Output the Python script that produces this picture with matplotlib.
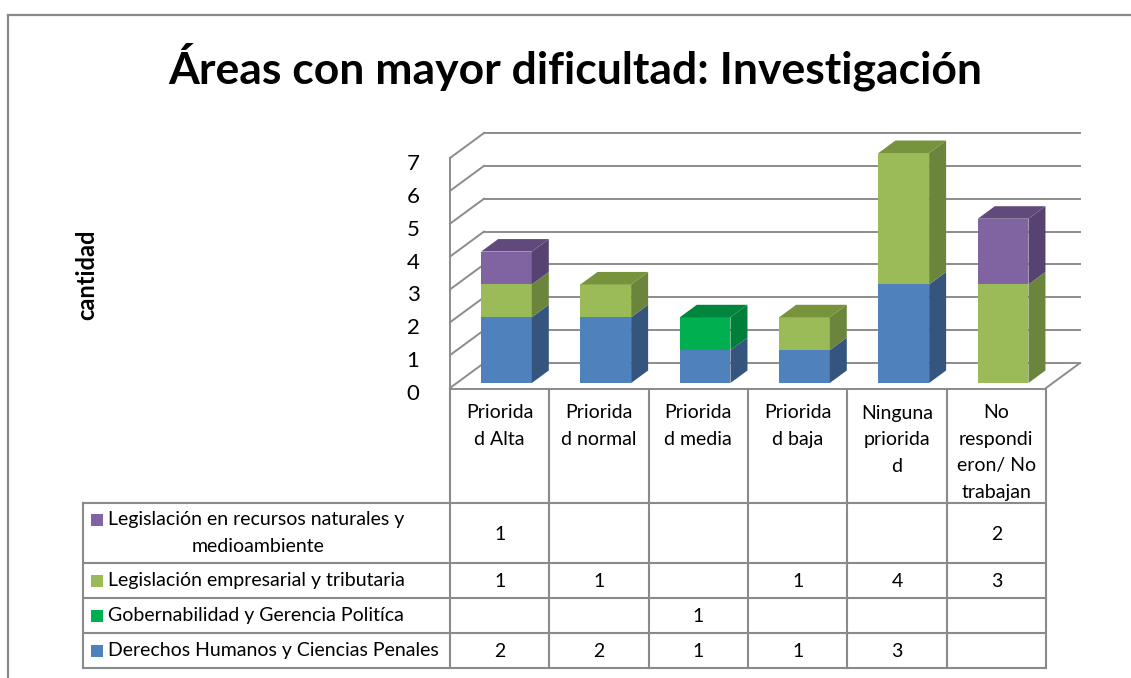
"""Stacked pseudo-3D column chart with a data table underneath."""
import numpy as np
import matplotlib
matplotlib.use("Agg")
import matplotlib.pyplot as plt
from matplotlib.patches import Polygon
from matplotlib.transforms import ScaledTranslation

plt.rcParams['font.family'] = ['Lato', 'DejaVu Sans']

# ---- data ----
cat_labels = ["Priorida\nd Alta", "Priorida\nd normal", "Priorida\nd media",
              "Priorida\nd baja", "Ninguna\npriorida\nd",
              "No\nrespondi\neron/ No\ntrabajan"]
# stacking order, bottom to top
series_names = ["Derechos Humanos y Ciencias Penales",
                "Gobernabilidad y Gerencia Politíca",
                "Legislación empresarial y tributaria",
                "Legislación en recursos naturales y\nmedioambiente"]
derechos = [2, 2, 1, 1, 3, 0]
gobernabilidad = [0, 0, 1, 0, 0, 0]
empresarial = [1, 1, 0, 1, 4, 3]
recursos = [1, 0, 0, 0, 0, 2]
values = [derechos, gobernabilidad, empresarial, recursos]

# front / side / top shades per series
front_c = ["#4F81BD", "#00B050", "#9BBB59", "#8064A2"]
side_c = ["#35557F", "#007E3A", "#6B853C", "#574372"]
top_c = ["#3B5E8C", "#00853F", "#77933C", "#604A7B"]
grid_c = "#8C8C8C"
FS = 14

W, H = 1131, 678
fig = plt.figure(figsize=(W / 100, H / 100), dpi=100)

# layout in pixels
X0, X1 = 450, 1046          # table columns / plot front
FLOOR, TOP = 388, 133       # front floor edge, back top gridline
DEPTH_PX = (34, 25)
ncat = len(cat_labels)
colw = (X1 - X0) / ncat

ax = fig.add_axes([X0 / W, 1 - FLOOR / H, (X1 - X0) / W, (FLOOR - TOP) / H])
unit = (FLOOR - TOP - DEPTH_PX[1]) / 7.0
dx = DEPTH_PX[0] / colw
dy = DEPTH_PX[1] / unit
ax.set_xlim(-0.5, ncat - 0.5)
ax.set_ylim(0, 7 + dy)
ax.patch.set_visible(False)
for s in ax.spines.values():
    s.set_visible(False)
ax.set_xticks([])
ax.set_yticks(range(8))
ax.tick_params(axis="y", length=0, pad=22, labelsize=16)
off = ScaledTranslation(0, -4 / 100, fig.dpi_scale_trans)
for lb in ax.get_yticklabels():
    lb.set_transform(lb.get_transform() + off)

# walls
xl, xr = -0.5, ncat - 0.5
for v in range(8):
    ax.plot([xl + dx, xr + dx], [v + dy, v + dy], color=grid_c, lw=1.4,
            clip_on=False, zorder=1)
    ax.plot([xl, xl + dx], [v, v + dy], color=grid_c, lw=1.4, clip_on=False, zorder=1)
ax.plot([xl, xl], [0, 7], color=grid_c, lw=1.4, clip_on=False, zorder=1)
ax.plot([xr, xr + dx], [0, dy], color=grid_c, lw=1.4, clip_on=False, zorder=1)

# bars
bw = 0.51
f0, bd = 0.2, 0.5
fx, fy = f0 * dx, f0 * dy
sx, sy = bd * dx, bd * dy
x = np.arange(ncat)
bottom = np.zeros(ncat)
tops = np.array([sum(v[i] for v in values) for i in range(ncat)])
for k, vals in enumerate(values):
    vals = np.array(vals, dtype=float)
    ax.bar(x + fx, vals, width=bw, bottom=bottom + fy, color=front_c[k],
           zorder=3, linewidth=0)
    for i in range(ncat):
        if vals[i] <= 0:
            continue
        b = bottom[i] + fy
        t = b + vals[i]
        xr_ = x[i] + fx + bw / 2
        xl_ = x[i] + fx - bw / 2
        ax.add_patch(Polygon([(xr_, b), (xr_ + sx, b + sy), (xr_ + sx, t + sy), (xr_, t)],
                             closed=True, fc=side_c[k], ec="none", zorder=3))
        if bottom[i] + vals[i] == tops[i]:
            ax.add_patch(Polygon([(xl_, t), (xr_, t), (xr_ + sx, t + sy), (xl_ + sx, t + sy)],
                                 closed=True, fc=top_c[k], ec="none", zorder=3))
    bottom += vals

# ---- overlay in pixel coordinates for table, title, frame ----
lay = fig.add_axes([0, 0, 1, 1])
lay.set_xlim(0, W)
lay.set_ylim(H, 0)
lay.axis("off")
lay.patch.set_visible(False)

lay.plot([8, W], [15, 15], color="#8A8A8A", lw=1.6)
lay.plot([8, 8], [15, H], color="#8A8A8A", lw=1.6)

lay.text(575, 67, "Áreas con mayor dificultad: Investigación", ha="center",
         va="center", fontsize=32, fontweight="bold")
lay.text(87, 275, "cantidad", rotation=90, ha="center", va="center",
         fontsize=17, fontweight="bold")

tc = "#8A8A8A"
LX = 83
rows_y = [503, 563, 598, 633, 668]
col_x = [X0 + i * colw for i in range(ncat + 1)]
lay.plot([X0, X1], [FLOOR + 1, FLOOR + 1], color=tc, lw=1.4)
for cx in col_x:
    lay.plot([cx, cx], [FLOOR + 1, rows_y[-1]], color=tc, lw=1.5)
lay.plot([LX, LX], [rows_y[0], rows_y[-1]], color=tc, lw=1.5)
for ry in rows_y:
    lay.plot([LX, X1], [ry, ry], color=tc, lw=1.5)

# header labels
for i, lab in enumerate(cat_labels):
    cx = (col_x[i] + col_x[i + 1]) / 2
    for j, line in enumerate(lab.split("\n")):
        lay.text(cx, 413 + j * 26.5, line, ha="center", va="center", fontsize=FS)

# legend cells + values, top row = last series
for r, k in enumerate(reversed(range(len(values)))):
    y0, y1 = rows_y[r], rows_y[r + 1]
    cy = (y0 + y1) / 2
    lines = series_names[k].split("\n")
    if len(lines) == 1:
        ys = [cy]
    else:
        ys = [cy - 13, cy + 13]
    lay.add_patch(plt.Rectangle((91, ys[0] - 6), 12, 12, fc=front_c[k], ec="none"))
    lay.text(108, ys[0], lines[0], ha="left", va="center", fontsize=FS)
    if len(lines) > 1:
        lay.text(258, ys[1], lines[1], ha="center", va="center", fontsize=FS)
    for i in range(ncat):
        v = values[k][i]
        if v:
            lay.text((col_x[i] + col_x[i + 1]) / 2, cy + 1, str(v), ha="center",
                     va="center", fontsize=FS)

fig.savefig("out.png", dpi=100)
